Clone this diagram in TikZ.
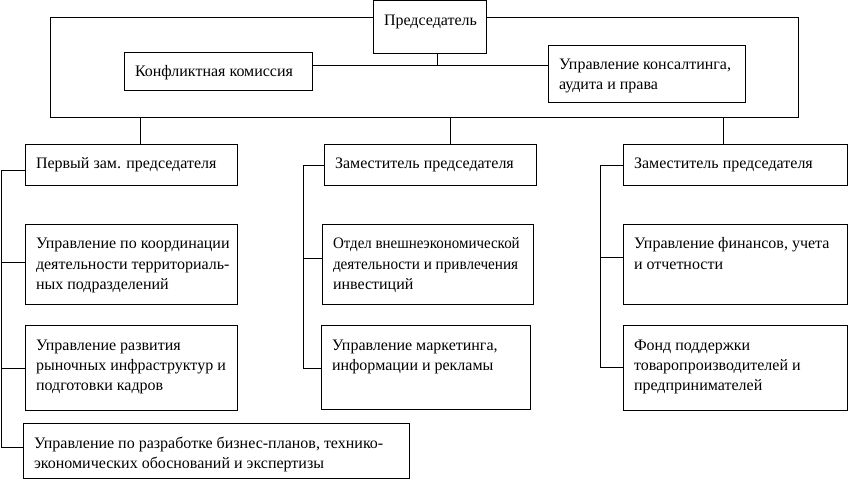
\documentclass[tikz,border=0pt]{standalone}
\usepackage{fontspec}
\setmainfont{Liberation Serif}
\usepackage{tikz}
\usetikzlibrary{calc}

% Text of a box: width, height (in bp), contents, set from the top
\newcommand{\unittext}[3]{\parbox[t][\dimexpr#2bp-16bp\relax][t]{#1bp}{\leftskip=11bp\rightskip=0bp plus 1fil\rule{0pt}{17bp}#3}}

\begin{document}
\begin{tikzpicture}[x=1bp, y=-1bp, line width=0.9bp,
    unit/.style={draw, anchor=north west, outer sep=0pt, inner xsep=0pt, inner ysep=8bp,
      font=\fontsize{16bp}{20bp}\selectfont}]

            % Fix the page size
            \useasboundingbox (0,0) rectangle (849,480);

            % Define the points of the frame round the top level
            \coordinate (ftl) at (50,17);
            \coordinate (fbr) at (798,117);
            \coordinate (mid) at (437,65);

            % Top level
            \node[unit] (chair) at (373,0.5) {\unittext{113}{52.5}{Председатель}};
            \node[unit] (konf) at (124,52) {\unittext{188}{38}{Конфликтная комиссия}};
            \node[unit] (konsalt) at (548,45) {\unittext{197}{57}{Управление консалтинга,\\ аудита и права}};

            % Deputies
            \node[unit] (d1) at (25,144) {\unittext{212}{41}{Первый зам. председателя}};
            \node[unit] (d2) at (324,144) {\unittext{212}{41}{Заместитель председателя}};
            \node[unit] (d3) at (623,144) {\unittext{224}{41}{Заместитель председателя}};

            % Departments
            \node[unit] (u11) at (25,224) {\unittext{212}{80}{Управление по координации\\ деятельности территориаль-\\ ных подразделений}};
            \node[unit] (u12) at (25,325) {\unittext{212}{85}{Управление развития\\ рыночных инфраструктур и\\ подготовки кадров}};
            \node[unit] (u13) at (23,423) {\unittext{386}{55}{Управление по разработке бизнес-планов, технико-\\ экономических обоснований и экспертизы}};
            \node[unit] (u21) at (322,224) {\unittext{211}{80}{\scalebox{0.935}[1]{Отдел внешнеэкономической}\\ \scalebox{0.95}[1]{деятельности и привлечения}\\ инвестиций}};
            \node[unit] (u22) at (321,325) {\unittext{209}{84}{Управление маркетинга,\\ информации и рекламы}};
            \node[unit] (u31) at (623,224) {\unittext{224}{80}{Управление финансов, учета\\ и отчетности}};
            \node[unit] (u32) at (623,325) {\unittext{224}{85}{Фонд поддержки\\ товаропроизводителей и\\ предпринимателей}};

            % Frame and the line under the chair
            \draw (chair.west |- ftl) -- (ftl) |- (fbr) |- (chair.east |- ftl);
            \draw (chair.south -| mid) -- (mid);
            \draw (konf.east |- mid) -- (konsalt.west |- mid);

            % From the frame down to the deputies
            \foreach \n/\x in {d1/140, d2/450, d3/723}
              \draw (\n.north -| \x,0) -- (\x,117);

            % Spines
            \coordinate (s1) at (1,170);
            \coordinate (s2) at (303,165);
            \coordinate (s3) at (600,165);
            \draw (d1.west |- s1) -- (s1) |- (u13.west |- 0,447);
            \draw (d2.west |- s2) -- (s2) |- (u22.west |- 0,368);
            \draw (d3.west |- s3) -- (s3) |- (u32.west |- 0,367);
            \foreach \s/\n/\y in {s1/u11/262, s1/u12/368, s2/u21/258, s3/u31/257}
              \draw (\n.west |- 0,\y) -- (\s |- 0,\y);
          \end{tikzpicture}
\end{document}
